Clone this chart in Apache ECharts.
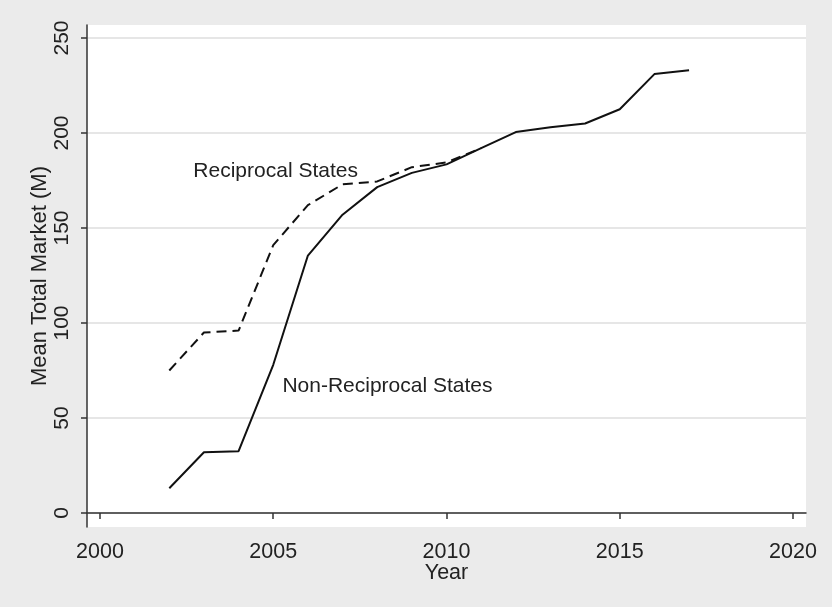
<!DOCTYPE html>
<html><head><meta charset="utf-8">
<script src="https://cdn.jsdelivr.net/npm/echarts@6/dist/echarts.min.js"></script>
<style>html,body{margin:0;padding:0;background:#ebebeb;}#c{width:832px;height:607px;}</style>
</head><body><div id="c"></div>
<script>
const years = [2002,2003,2004,2005,2006,2007,2008,2009,2010,2011,2012,2013,2014,2015,2016,2017];
const nonReciprocal = [13,32,32.5,78,135.5,157,171.5,179,183.5,192,200.5,203,205,212.5,231,233];
const reciprocalYears = [2002,2003,2004,2005,2006,2007,2008,2009,2010,2011];
const reciprocal = [75,95,96,141,162,173,174.5,182,184.5,192];
const xTicks = [2000,2005,2010,2015,2020];
const yTicks = [0,50,100,150,200,250];
const labelReciprocal = 'Reciprocal States';
const labelNonReciprocal = 'Non-Reciprocal States';

const font = 'Liberation Sans, Arial, sans-serif';
const chart = echarts.init(document.getElementById('c'));
const annot = (coord, text) => ({
  symbol: 'circle', symbolSize: 1, itemStyle: {color: 'rgba(0,0,0,0)'},
  data: [{coord: coord, value: 0}],
  label: {show: true, formatter: text, position: 'right', distance: 0, fontSize: 21, color: '#222', fontFamily: font}
});
chart.setOption({
  backgroundColor: '#ebebeb',
  animation: false,
  grid: {left: 87, right: 26, top: 25, bottom: 80, show: true, backgroundColor: '#ffffff', borderWidth: 0},
  xAxis: {
    type: 'value', min: 1999.625, max: 2020.375,
    name: 'Year', nameLocation: 'middle', nameGap: 35, nameMoveOverlap: false,
    nameTextStyle: {fontSize: 21.5, color: '#222', fontFamily: font},
    axisLine: {show: true, lineStyle: {color: '#333', width: 1.5}},
    axisTick: {show: true, length: 6, customValues: xTicks, lineStyle: {color: '#333', width: 1.5}},
    axisLabel: {customValues: xTicks, fontSize: 21.5, color: '#222', fontFamily: font, margin: 14, formatter: v => String(v)},
    splitLine: {show: false}
  },
  yAxis: {
    type: 'value', min: -7.37, max: 256.84,
    name: 'Mean Total Market (M)', nameLocation: 'middle', nameGap: 36, nameMoveOverlap: false,
    nameTextStyle: {fontSize: 22, color: '#222', fontFamily: font},
    axisLine: {show: true, lineStyle: {color: '#333', width: 1.5}},
    axisTick: {show: true, length: 6, customValues: yTicks, lineStyle: {color: '#333', width: 1.5}},
    axisLabel: {customValues: yTicks, rotate: 90, fontSize: 21, color: '#222', fontFamily: font, margin: 14},
    splitLine: {show: true, lineStyle: {color: '#e6e6e6', width: 2}}
  },
  series: [
    {
      type: 'line', data: years.map((y, i) => [y, nonReciprocal[i]]),
      showSymbol: false, lineStyle: {color: '#111', width: 2}, z: 3,
      markPoint: annot([2005.25, 66.8], labelNonReciprocal)
    },
    {
      type: 'line', data: reciprocalYears.map((y, i) => [y, reciprocal[i]]),
      showSymbol: false, lineStyle: {color: '#111', width: 2, type: [10, 6]}, z: 2,
      markPoint: annot([2002.68, 180], labelReciprocal)
    }
  ]
});
</script></body></html>
